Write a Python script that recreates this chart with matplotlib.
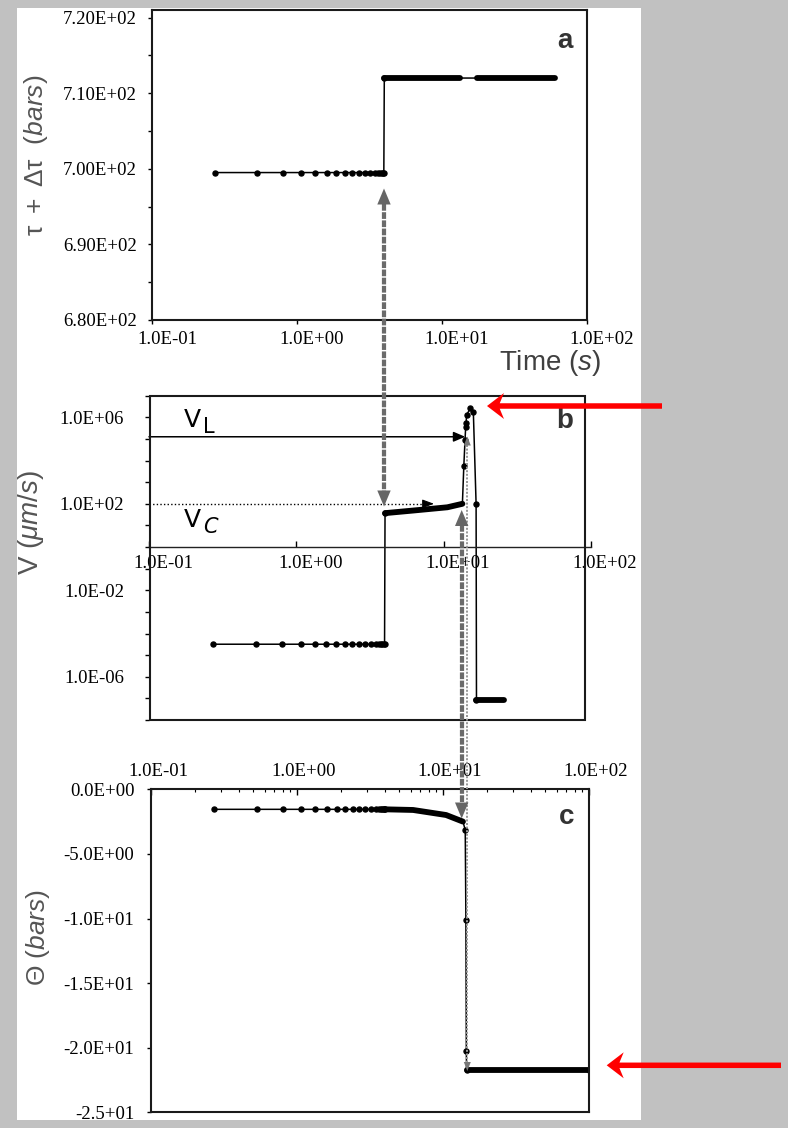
import matplotlib
matplotlib.use('Agg')
import matplotlib.pyplot as plt
from matplotlib.patches import Rectangle, FancyArrow, Polygon
from matplotlib.lines import Line2D
from matplotlib.transforms import Affine2D, ScaledTranslation
from matplotlib.ticker import FixedLocator, NullLocator, NullFormatter

plt.rcParams['font.family'] = ['Liberation Serif', 'DejaVu Serif']
plt.rcParams['mathtext.fontset'] = 'custom'
plt.rcParams['mathtext.rm'] = 'Liberation Sans'
plt.rcParams['mathtext.it'] = 'Liberation Sans:italic'
plt.rcParams['mathtext.bf'] = 'Liberation Sans:bold'

# ---------------- data ----------------
t_pre = [0.27, 0.53, 0.80, 1.07, 1.33, 1.60, 1.87, 2.13, 2.40, 2.67, 2.93,
         3.20, 3.47, 3.62, 3.74, 3.84, 3.92, 3.97]

# panel a : shear stress tau + dtau (bars)
tau_pre = [699.5, 699.5, 699.5, 699.5, 699.5, 699.5, 699.5, 699.5, 699.5,
           699.5, 699.5, 699.5, 699.5, 699.5, 699.5, 699.5, 699.5, 699.5]
t_tau_post = [4.0, 13.3, 17.4, 60.0]
tau_post = [712.0, 712.0, 712.0, 712.0]

# panel b : slip velocity V (um/s)
v_pre = [3.2e-5, 3.2e-5, 3.2e-5, 3.2e-5, 3.2e-5, 3.2e-5, 3.2e-5, 3.2e-5, 3.2e-5,
         3.2e-5, 3.2e-5, 3.2e-5, 3.2e-5, 3.2e-5, 3.2e-5, 3.2e-5, 3.2e-5, 3.2e-5]
t_v_slow = [4.0, 6.25, 10.6, 13.4]
v_slow = [37.0, 49.0, 69.0, 100.0]
t_v_fast = [13.7, 13.96, 14.1, 14.2, 14.3, 15.2, 15.9, 16.6, 16.7]
v_fast = [5.4e3, 8.7e4, 3.4e5, 5.3e5, 1.3e6, 2.6e6, 1.8e6, 100.0, 8e-8]
t_v_end = [25.7]
v_end = [8e-8]
V_L = 1.26e5
V_C = 100.0
t_VL_tip = 14.0
t_VC_tip = 8.6

# panel c : Theta (bars)
theta_pre = [-1.55, -1.55, -1.55, -1.55, -1.55, -1.55, -1.55, -1.55, -1.55,
             -1.55, -1.55, -1.55, -1.55, -1.55, -1.55, -1.55, -1.55, -1.55]
t_theta_slow = [4.0, 6.24, 10.5, 13.7]
theta_slow = [-1.55, -1.6, -1.99, -2.5]
t_theta_drop = [14.2, 14.35, 14.45, 14.5]
theta_drop = [-3.15, -10.1, -20.25, -21.7]
t_theta_end = [100.0]
theta_end = [-21.7]

x_ticks = [0.1, 1.0, 10.0, 100.0]
x_ticklabels = ['1.0E-01', '1.0E+00', '1.0E+01', '1.0E+02']
a_yticks = [680, 690, 700, 710, 720]
a_yticklabels = ['6.80E+02', '6.90E+02', '7.00E+02', '7.10E+02', '7.20E+02']
b_yticks = [1e-6, 1e-2, 1e2, 1e6]
b_yticklabels = ['1.0E-06', '1.0E-02', '1.0E+02', '1.0E+06']
c_yticks = [0, -5, -10, -15, -20, -25]
c_yticklabels = ['0.0E+00', '-5.0E+00', '-1.0E+01', '-1.5E+01', '-2.0E+01', '-2.5+01']

# ---------------- figure ----------------
W, H = 788, 1128
fig = plt.figure(figsize=(W / 100, H / 100), dpi=100)
fig.patch.set_facecolor('#c1c1c1')
PX = Affine2D().scale(1 / W, -1 / H).translate(0, 1) + fig.transFigure

fig.add_artist(Rectangle((17, 8), 624, 1111.5, transform=PX, facecolor='white',
                         edgecolor='none', zorder=-5))


def add_axes_px(l, t, r, b):
    return fig.add_axes([l / W, 1 - b / H, (r - l) / W, (b - t) / H])


def shift_xlabels(ax, dx_px):
    off = ScaledTranslation(dx_px / 100, 0, fig.dpi_scale_trans)
    for lab in ax.get_xticklabels():
        lab.set_transform(lab.get_transform() + off)


TICKFS = 13.5
THIN = 1.1
THICK = 4.2
MS = 3.6

# ---------------- panel a ----------------
ax_a = add_axes_px(152, 10, 587, 320)
ax_a.set_xscale('log')
a_t = t_pre + t_tau_post
a_v = tau_pre + tau_post
ax_a.plot(a_t, a_v, color='k', lw=THIN, marker='o', ms=MS,
          markevery=list(range(len(t_pre) + 1)))
ax_a.plot(t_tau_post[0:2], tau_post[0:2], color='k', lw=THICK, solid_capstyle='round')
ax_a.plot(t_tau_post[2:4], tau_post[2:4], color='k', lw=THICK, solid_capstyle='round')
ax_a.set_xlim(0.1, 100)
ax_a.set_ylim(680, 721)
ax_a.set_xticks(x_ticks)
ax_a.set_xticklabels(x_ticklabels)
ax_a.xaxis.set_minor_locator(NullLocator())
ax_a.set_yticks(a_yticks)
ax_a.set_yticklabels(a_yticklabels)
ax_a.set_yticks([685, 695, 705, 715], minor=True)
ax_a.tick_params(axis='both', which='both', direction='out', length=3, width=1,
                 labelsize=TICKFS)
ax_a.tick_params(axis='y', pad=8)
ax_a.tick_params(axis='x', pad=5)
for s in ax_a.spines.values():
    s.set_linewidth(1.5)
    s.set_color('#1a1a1a')
shift_xlabels(ax_a, 15)

# ---------------- panel b ----------------
ax_b = add_axes_px(149, 395.7, 591, 720)
ax_b.set_xscale('log')
ax_b.set_yscale('log')
ax_b.patch.set_alpha(0)
b_t = t_pre + t_v_slow + t_v_fast + t_v_end
b_v = v_pre + v_slow + v_fast + v_end
mk = list(range(len(t_pre) + 1)) + list(range(len(t_pre) + len(t_v_slow),
                                               len(t_pre) + len(t_v_slow) + len(t_v_fast)))
ax_b.plot(b_t, b_v, color='k', lw=THIN, marker='o', ms=MS, markevery=mk)
ax_b.plot(t_v_slow, v_slow, color='k', lw=THICK, solid_capstyle='round')
ax_b.plot([t_v_fast[-1]] + t_v_end, [v_fast[-1]] + v_end, color='k', lw=THICK,
          solid_capstyle='round')
# V_L and V_C guide arrows
ax_b.annotate('', xy=(t_VL_tip, V_L), xytext=(0.1, V_L),
              arrowprops=dict(arrowstyle='-|>,head_length=7,head_width=3', mutation_scale=1,
                              color='k', lw=1.1, shrinkA=0, shrinkB=0))
ax_b.plot([0.1, t_VC_tip * 0.93], [V_C, V_C], color='k', lw=1.0, ls=(0, (1, 1.6)))
ax_b.annotate('', xy=(t_VC_tip, V_C), xytext=(t_VC_tip * 0.9, V_C),
              arrowprops=dict(arrowstyle='-|>,head_length=7,head_width=2.6', mutation_scale=1,
                              color='k', lw=0.8, shrinkA=0, shrinkB=0))
ax_b.set_xlim(0.1, 100)
ax_b.set_ylim(1e-8, 1e7)
for k in ['top', 'right', 'left']:
    ax_b.spines[k].set_visible(False)
ax_b.spines['bottom'].set_position(('data', 1.0))
ax_b.spines['bottom'].set_linewidth(1.0)
ax_b.spines['bottom'].set_color('#222222')
ax_b.set_xticks(x_ticks)
ax_b.set_xticklabels(x_ticklabels)
ax_b.xaxis.set_minor_locator(NullLocator())
ax_b.set_yticks(b_yticks)
ax_b.set_yticklabels(b_yticklabels)
ax_b.yaxis.set_minor_locator(FixedLocator([1e-8, 1e-7, 1e-5, 1e-4, 1e-3, 1e-1, 1e0, 1e1,
                                           1e3, 1e4, 1e5, 1e7]))
ax_b.yaxis.set_minor_formatter(NullFormatter())
ax_b.tick_params(axis='y', which='both', direction='out', length=3, width=1,
                 labelsize=TICKFS, pad=15)
ax_b.tick_params(axis='x', which='both', direction='in', length=4, width=1,
                 labelsize=TICKFS, pad=6)
shift_xlabels(ax_b, 14)
fig.add_artist(Rectangle((150, 396), 435, 324, transform=PX, facecolor='none',
                         edgecolor='#1a1a1a', lw=1.5, zorder=3))

# ---------------- panel c ----------------
ax_c = add_axes_px(151, 789.3, 589, 1112.3)
ax_c.set_xscale('log')
c_t = t_pre + t_theta_slow + t_theta_drop + t_theta_end
c_v = theta_pre + theta_slow + theta_drop + theta_end
mkc = list(range(len(t_pre) + 1)) + list(range(len(t_pre) + len(t_theta_slow),
                                                len(c_t)))
ax_c.plot(c_t, c_v, color='k', lw=THIN, marker='o', ms=MS, markevery=mkc)
ax_c.plot(t_theta_slow, theta_slow, color='k', lw=THICK, solid_capstyle='round')
ax_c.plot([t_theta_drop[-1]] + t_theta_end, [theta_drop[-1]] + theta_end, color='k',
          lw=THICK, solid_capstyle='round')
ax_c.set_xlim(0.1, 100)
ax_c.set_ylim(-25, 0)
ax_c.xaxis.tick_top()
ax_c.set_xticks(x_ticks)
ax_c.set_xticklabels(x_ticklabels)
ax_c.set_yticks(c_yticks)
ax_c.set_yticklabels(c_yticklabels)
ax_c.tick_params(axis='x', which='major', direction='in', length=4, width=1,
                 labelsize=TICKFS, pad=7)
ax_c.tick_params(axis='x', which='minor', direction='in', length=2.5, width=0.8)
ax_c.xaxis.set_minor_formatter(NullFormatter())
ax_c.tick_params(axis='y', direction='out', length=3, width=1, labelsize=TICKFS, pad=9)
for s in ax_c.spines.values():
    s.set_linewidth(1.5)
    s.set_color('#1a1a1a')
shift_xlabels(ax_c, 7)

# ---------------- labels ----------------
def ftext(x, y, s, **kw):
    return fig.text(x / W, 1 - y / H, s, **kw)


ftext(36, 155, r'$\mathrm{\tau\ +\ \Delta\tau\ \ (}\mathit{bars}\mathrm{)}$', rotation=90,
      ha='center', va='center', fontsize=19, color='#555555')
ftext(31, 523, r'$\mathrm{V\ (}\mathit{\mu m/s}\mathrm{)}$', rotation=90,
      ha='center', va='center', fontsize=20, color='#555555')
ftext(38, 937, r'$\mathrm{\Theta\ (}\mathit{bars}\mathrm{)}$', rotation=90,
      ha='center', va='center', fontsize=19, color='#555555')
ftext(550, 363, r'$\mathrm{Time\ (}\mathit{s}\mathrm{)}$', ha='center', va='center',
      fontsize=20, color='#404040')
for lx, ly, lt in [(565, 41, 'a'), (565, 421, 'b'), (566.5, 817.5, 'c')]:
    ftext(lx, ly, lt, ha='center', va='center', fontsize=20, fontweight='bold',
          family='Liberation Sans', color='#333333')

ftext(184, 426.7, 'V', fontsize=18, family='DejaVu Sans', ha='left', va='baseline')
ftext(203, 433.3, 'L', fontsize=15, family='DejaVu Sans', ha='left', va='baseline')
ftext(184, 526.7, 'V', fontsize=18, family='DejaVu Sans', ha='left', va='baseline')
ftext(203, 533.3, 'C', fontsize=15, family='DejaVu Sans', style='italic', ha='left',
      va='baseline')


# ---------------- connecting arrows ----------------
def head(x, ytip, direction, hl, hw, color):
    s = 1 if direction == 'up' else -1
    fig.add_artist(Polygon([(x, ytip), (x - hw, ytip + s * hl), (x + hw, ytip + s * hl)],
                           closed=True, transform=PX, facecolor=color, edgecolor='none',
                           zorder=6))


def double_arrow(x, ytop, ybot, lw_px, shaft_color, head_color, hl, hw, dashes):
    fig.add_artist(Line2D([x, x], [ytop + hl - 1, ybot - hl + 1], transform=PX,
                          lw=lw_px * 0.72, color=shaft_color, dashes=dashes, zorder=5))
    head(x, ytop, 'up', hl, hw, head_color)
    head(x, ybot, 'down', hl, hw, head_color)


double_arrow(384, 188.5, 506.5, 4.2, '#6a6a6a', '#666666', 16, 6.7, (1.6, 0.35))
double_arrow(461.7, 510, 818.5, 4.2, '#6a6a6a', '#666666', 16, 6.7, (1.6, 0.35))
double_arrow(467.3, 436.5, 1071, 2.0, '#9a9a9a', '#777777', 9, 3.5, (1.0, 0.8))

# red arrows
for (x0, x1, y) in [(662, 487, 406), (781, 606.7, 1065.3)]:
    fig.add_artist(FancyArrow(x0, y, x1 - x0, 0, width=5.5, head_width=26, head_length=17,
                              length_includes_head=True, overhang=0.25, transform=PX,
                              facecolor='#ff0000', edgecolor='none', zorder=7))

fig.savefig('out.png', dpi=100, facecolor=fig.get_facecolor())
